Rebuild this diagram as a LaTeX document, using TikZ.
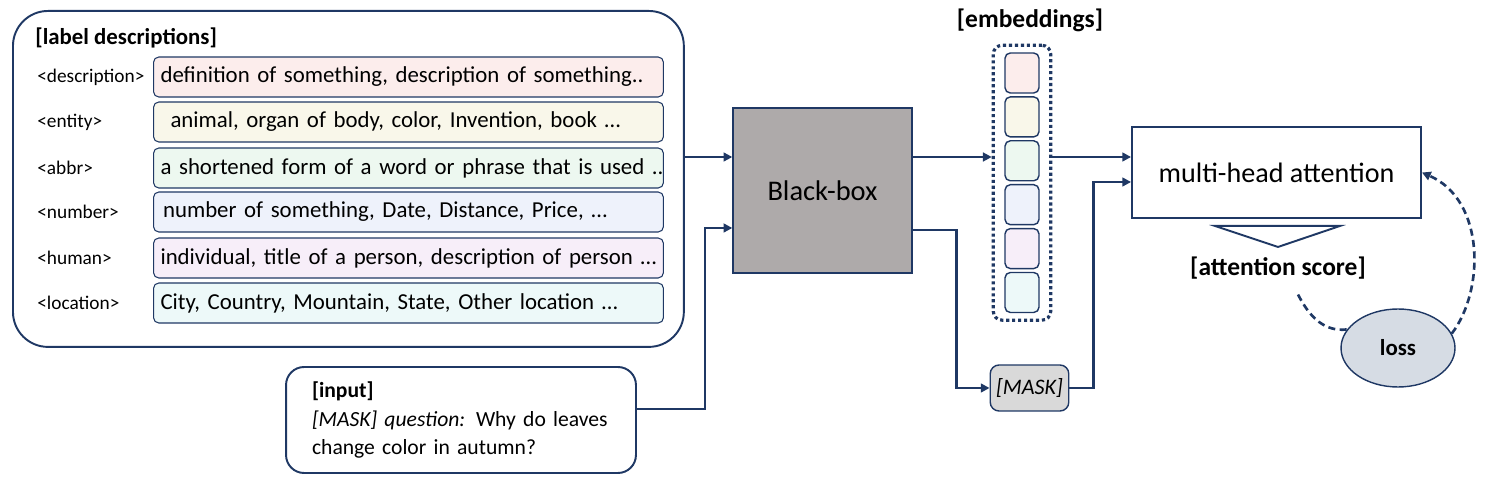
\documentclass[tikz,border=0pt]{standalone}
\usepackage{fontspec}
\setmainfont{Carlito}
\usepackage{tikz}
\usetikzlibrary{arrows.meta,shapes.geometric,positioning,fit}

\definecolor{navy}{RGB}{31,56,100}
\definecolor{pinkfill}{HTML}{FCEDEC}
\definecolor{yellowfill}{HTML}{F9F7EA}
\definecolor{greenfill}{HTML}{EDF8F0}
\definecolor{bluefill}{HTML}{EEF2FB}
\definecolor{purplefill}{HTML}{F7EEF9}
\definecolor{cyanfill}{HTML}{EDF9F9}
\definecolor{boxgray}{HTML}{AEAAAA}
\definecolor{maskgray}{HTML}{D9D9D9}
\definecolor{lossfill}{HTML}{D6DCE4}

\tikzset{
  descbox/.style={draw=navy, line width=0.6pt, rounded corners=3pt, anchor=west,
    minimum height=0.8cm, inner xsep=0.14cm, text width=9.92cm, align=left,
    font=\fontsize{13}{15}\selectfont},
  tagtext/.style={anchor=west, inner sep=0pt, font=\fontsize{11}{13}\selectfont},
  embcell/.style={draw=navy, line width=0.8pt, rounded corners=3pt,
    minimum width=0.68cm, minimum height=0.8cm},
  heading/.style={inner sep=0pt, font=\bfseries\fontsize{14.5}{16}\selectfont},
  flow/.style={draw=navy, line width=1.6pt, -{Triangle[length=5pt,width=5pt]}},
  lossflow/.style={draw=navy, line width=1.5pt, dash pattern=on 4pt off 2.5pt}
}

\begin{document}
\begin{tikzpicture}[x=0.02cm,y=-0.02cm]
		\useasboundingbox (0,0) rectangle (1494,482);
		% label descriptions
		\node[draw=navy, line width=1.1pt, rounded corners=0.7cm, anchor=north west,
		  minimum width=13.42cm, minimum height=6.72cm] (labels) at (12,10) {};
		\node[heading, anchor=west, font=\bfseries\fontsize{13}{15}\selectfont] (labtitle) at (35,38) {[label descriptions]};
		\node[tagtext] (tdesc) at (37,77) {<description>};
		\node[descbox, fill=pinkfill] (ddesc) at (153,77) {\mbox{definition of something, description of something..}};
		\node[tagtext] (tent) at (37,122) {<entity>};
		\node[descbox, fill=yellowfill] (dent) at (153,122) {\mbox{\hspace{0.2cm}animal, organ of body, color, Invention, book …}};
		\node[tagtext] (tabbr) at (37,168) {<abbr>};
		\node[descbox, fill=greenfill] (dabbr) at (153,168) {\mbox{a shortened form of a word or phrase that is used ..}};
		\node[tagtext] (tnum) at (37,212) {<number>};
		\node[descbox, fill=bluefill] (dnum) at (153,212) {\mbox{\hspace{0.05cm}number of something, Date, Distance, Price, …}};
		\node[tagtext] (thum) at (37,258) {<human>};
		\node[descbox, fill=purplefill] (dhum) at (153,258) {\mbox{individual, title of a person, description of person …}};
		\node[tagtext] (tloc) at (37,303) {<location>};
		\node[descbox, fill=cyanfill] (dloc) at (153,303) {\mbox{City, Country, Mountain, State, Other location …}};

		% input
		\node[draw=navy, line width=1.1pt, rounded corners=0.36cm, minimum height=2.12cm,
		  inner xsep=0.52cm, text width=5.96cm, align=left, font=\fontsize{12.3}{16}\selectfont]
		  (input) at (461,420) {\textbf{[input]}\\{\itshape [MASK] question:} Why do leaves\\change color in autumn?};

		% black box
		\node[draw=navy, fill=boxgray, line width=0.8pt, minimum width=3.58cm, minimum height=3.3cm,
		  font=\fontsize{16.2}{18}\selectfont] (bb) at (822.5,190.5) {Black-box};
		\coordinate (bbin1) at ([yshift=0.67cm]bb.west);
		\coordinate (bbin2) at ([yshift=-0.75cm]bb.west);
		\coordinate (bbout1) at ([yshift=0.67cm]bb.east);
		\coordinate (bbout2) at ([yshift=-0.79cm]bb.east);

		% embeddings
		\node[embcell, fill=pinkfill] (e1) at (1022,73) {};
		\node[embcell, fill=yellowfill, below=0.05cm of e1] (e2) {};
		\node[embcell, fill=greenfill, below=0.05cm of e2] (e3) {};
		\node[embcell, fill=bluefill, below=0.05cm of e3] (e4) {};
		\node[embcell, fill=purplefill, below=0.05cm of e4] (e5) {};
		\node[embcell, fill=cyanfill, below=0.05cm of e5] (e6) {};
		\node[draw=navy, line width=1.8pt, dash pattern=on 1.8pt off 1.6pt, rounded corners=5pt,
		  inner xsep=0.22cm, inner ysep=0.14cm, fit=(e1)(e6)] (emb) {};
		\node[heading] (embtitle) at (1030,20) {[embeddings]};

		% mask token
		\node[draw=navy, fill=maskgray, line width=0.8pt, rounded corners=5pt, minimum width=1.54cm,
		  minimum height=0.92cm, font=\itshape\fontsize{12.6}{14}\selectfont] (mask) at (1029.5,388) {[MASK]};

		% attention
		\node[draw=navy, line width=1.1pt, minimum width=5.78cm, minimum height=1.82cm,
		  font=\fontsize{16}{18}\selectfont] (att) at (1276.5,172.5) {multi-head attention};
		\coordinate (attin1) at ([yshift=0.31cm]att.west);
		\coordinate (attin2) at ([yshift=-0.19cm]att.west);
		\draw[navy, line width=1.1pt] ([shift={(-61.5,7)}]att.south) -- ([shift={(63.5,7)}]att.south)
		  -- ([shift={(1.5,28)}]att.south) -- cycle;
		\node[heading] (ascore) at (1278,268) {[attention score]};

		% loss
		\node[ellipse, draw=navy, fill=lossfill, line width=0.8pt, minimum width=2.28cm, minimum height=1.56cm,
		  font=\bfseries\fontsize{13}{15}\selectfont] (loss) at (1398,348) {loss};

		% connectors
		\draw[flow] (labels.east |- bbin1) -- (bbin1);
		\draw[flow] (input.east |- 0,409) -- ++(68,0) |- (bbin2);
		\draw[flow] (bbout1) -- (bbout1 -| emb.west);
		\draw[flow] (bbout2) -- ++(44,0) |- (mask.west);
		\draw[flow] (emb.east |- attin1) -- (attin1);
		\draw[flow] (mask.east) -- ++(24,0) |- (attin2);
		\draw[lossflow] ([shift={(20,15)}]ascore.south) .. controls (1310,318) and (1325,332) .. (loss.160);
		\draw[lossflow, -{Triangle[length=5pt,width=5pt]}] (loss.15) .. controls (1485,290) and (1485,200) .. (att.east);
	\end{tikzpicture}
\end{document}
